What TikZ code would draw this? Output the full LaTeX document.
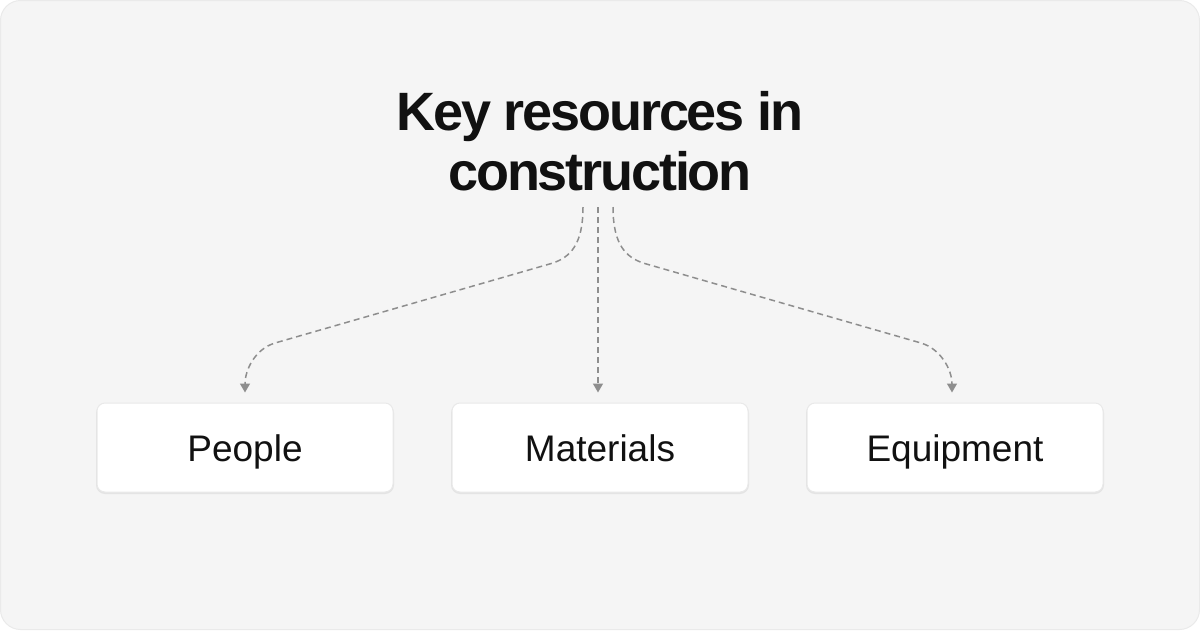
\documentclass[tikz,border=0pt]{standalone}
\usepackage{fontspec}
\setmainfont{Liberation Sans}
\newfontfamily\titlefont[LetterSpace=-4]{Liberation Sans}
\usetikzlibrary{arrows.meta}
\definecolor{bgfill}{HTML}{F5F5F5}
\definecolor{bgline}{HTML}{EAEAEA}
\definecolor{boxline}{HTML}{E9E9E9}
\definecolor{boxshade}{HTML}{E4E4E4}
\definecolor{ink}{HTML}{111111}
\definecolor{wire}{HTML}{8E8E8E}
\begin{document}
\begin{tikzpicture}[x=1pt, y=-1pt, >={Triangle[width=10pt,length=9pt]}]
\useasboundingbox (0,0) rectangle (1200,630);
\draw[fill=bgfill, draw=bgline, line width=1pt, rounded corners=20pt] (0.5,0.5) rectangle (1199.5,629.5);

\node[align=center, inner sep=0pt, text=ink, font=\titlefont\bfseries\fontsize{54}{60}\selectfont] (title) at (600,141.5) {Key resources in\\construction};

% soft shade under the boxes
\foreach \x in {245,600,955}
       \fill[boxshade, rounded corners=9pt] (\x-149,404) rectangle (\x+149,494);

   \begin{scope}[every node/.style={rounded corners=8pt, fill=white, draw=boxline, line width=1pt, minimum width=296pt, minimum height=89pt, text height=27pt, text depth=0pt, text=ink, font=\fontsize{37}{44}\selectfont}]
\foreach \n/\x/\t in {people/245/People, materials/600/Materials, equipment/955/Equipment}
       \node (\n) at (\x,447.5) {\t};
  \end{scope}

\coordinate (src-l) at (583,207);
\coordinate (src-m) at (598,207);
\coordinate (src-r) at (613,207);

   \begin{scope}[draw=wire, line width=1.5pt, dash pattern=on 6pt off 4pt]
\draw[->] (src-l) .. controls (583,245) and (570,257) .. (553,263) -- (275,343) .. controls (255,349) and (245,370) .. ([yshift=10pt]people.north);
\draw[->] (src-m) -- ([yshift=10pt]src-m |- materials.north);
\draw[->] (src-r) .. controls (613,245) and (626,257) .. (643,263) -- (921,343) .. controls (941,349) and (952,370) .. ([xshift=-3pt,yshift=10pt]equipment.north);
  \end{scope}
\end{tikzpicture}
\end{document}
